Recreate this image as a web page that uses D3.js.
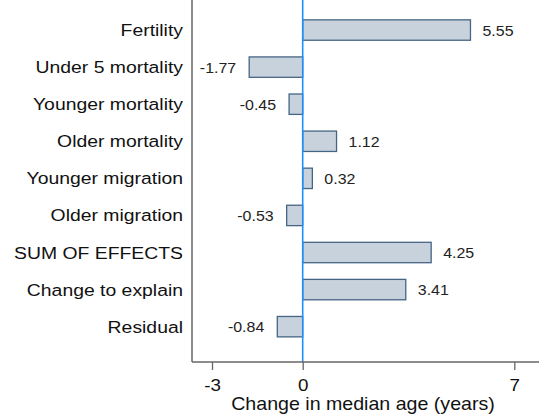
<!DOCTYPE html>
<html>
<head>
<meta charset="utf-8">
<script src="https://cdn.jsdelivr.net/npm/d3@7"></script>
<style>
  body { margin: 0; background: #fff; }
  svg { display: block; font-family: "Liberation Sans", Arial, sans-serif; }
</style>
</head>
<body>
<div id="chart"></div>
<script>
// data
const categories = ['Fertility', 'Under 5 mortality', 'Younger mortality', 'Older mortality',
    'Younger migration', 'Older migration', 'SUM OF EFFECTS', 'Change to explain', 'Residual'];
const values = [5.55, -1.77, -0.45, 1.12, 0.32, -0.53, 4.25, 3.41, -0.84];
const valueLabels = ['5.55', '-1.77', '-0.45', '1.12', '0.32', '-0.53', '4.25', '3.41', '-0.84'];
const xTicks = [-3, 0, 7];
const xTitle = 'Change in median age (years)';

const width = 539, height = 418;
const plotLeft = 192, plotRight = 539, plotTop = 0, plotBottom = 362;
// the reference text is a bit stretched sideways
const stretch = 1.14;

const svg = d3.select('#chart').append('svg')
    .attr('width', width)
    .attr('height', height);

// x: 0 sits at ~302.7, 7 at ~514.3
const x = d3.scaleLinear().domain([-3, 7]).range([212, 514.3]);

const y = d3.scaleBand()
    .domain(categories)
    .range([11.5, 345.2])
    .paddingInner(0.45)
    .paddingOuter(0.225);

// bars
svg.append('g').selectAll('rect').data(values).join('rect')
    .attr('x', d => x(Math.min(0, d)))
    .attr('y', (d, i) => y(categories[i]))
    .attr('width', d => Math.abs(x(d) - x(0)))
    .attr('height', y.bandwidth())
    .attr('fill', '#c8d2dd')
    .attr('stroke', '#456584')
    .attr('stroke-width', 1.3);

// value labels
svg.append('g').selectAll('text').data(values).join('text')
    .attr('transform', (d, i) => {
        const tx = d >= 0 ? x(d) + 12 : x(d) - 13;
        return `translate(${tx},${y(categories[i]) + y.bandwidth() / 2 + 5.5}) scale(${stretch},1)`;
    })
    .attr('text-anchor', d => d >= 0 ? 'start' : 'end')
    .attr('font-size', '14px')
    .attr('fill', '#222')
    .text((d, i) => valueLabels[i]);

// zero line
svg.append('line')
    .attr('x1', x(0)).attr('x2', x(0))
    .attr('y1', plotTop).attr('y2', plotBottom)
    .attr('stroke', '#1e8fff')
    .attr('stroke-width', 1.6);

// category labels
svg.append('g').selectAll('text').data(categories).join('text')
    .attr('transform', d => `translate(183,${y(d) + y.bandwidth() / 2 + 6}) scale(${stretch},1)`)
    .attr('text-anchor', 'end')
    .attr('font-size', '17px')
    .attr('fill', '#111')
    .text(d => d);

// axes
svg.append('line')
    .attr('x1', plotLeft).attr('x2', plotLeft)
    .attr('y1', plotTop).attr('y2', plotBottom)
    .attr('stroke', '#666').attr('stroke-width', 1.5);
svg.append('line')
    .attr('x1', plotLeft).attr('x2', plotRight)
    .attr('y1', plotBottom).attr('y2', plotBottom)
    .attr('stroke', '#666').attr('stroke-width', 1.5);

const xAxis = svg.append('g')
    .attr('transform', `translate(0,${plotBottom})`)
    .call(d3.axisBottom(x).tickValues(xTicks).tickSize(8).tickPadding(6).tickFormat(d => String(d)));
xAxis.select('.domain').remove();
xAxis.selectAll('line').attr('stroke', '#666').attr('stroke-width', 1.3);
xAxis.selectAll('text')
    .attr('y', 29)
    .attr('dy', null)
    .attr('transform', `scale(${stretch},1)`)
    .attr('font-size', '16.5px')
    .attr('font-family', '"Liberation Sans", Arial, sans-serif')
    .attr('fill', '#111');

svg.append('text')
    .attr('transform', `translate(363,410) scale(1.06,1)`)
    .attr('text-anchor', 'middle')
    .attr('font-size', '18.5px')
    .attr('fill', '#111')
    .text(xTitle);
</script>
</body>
</html>
